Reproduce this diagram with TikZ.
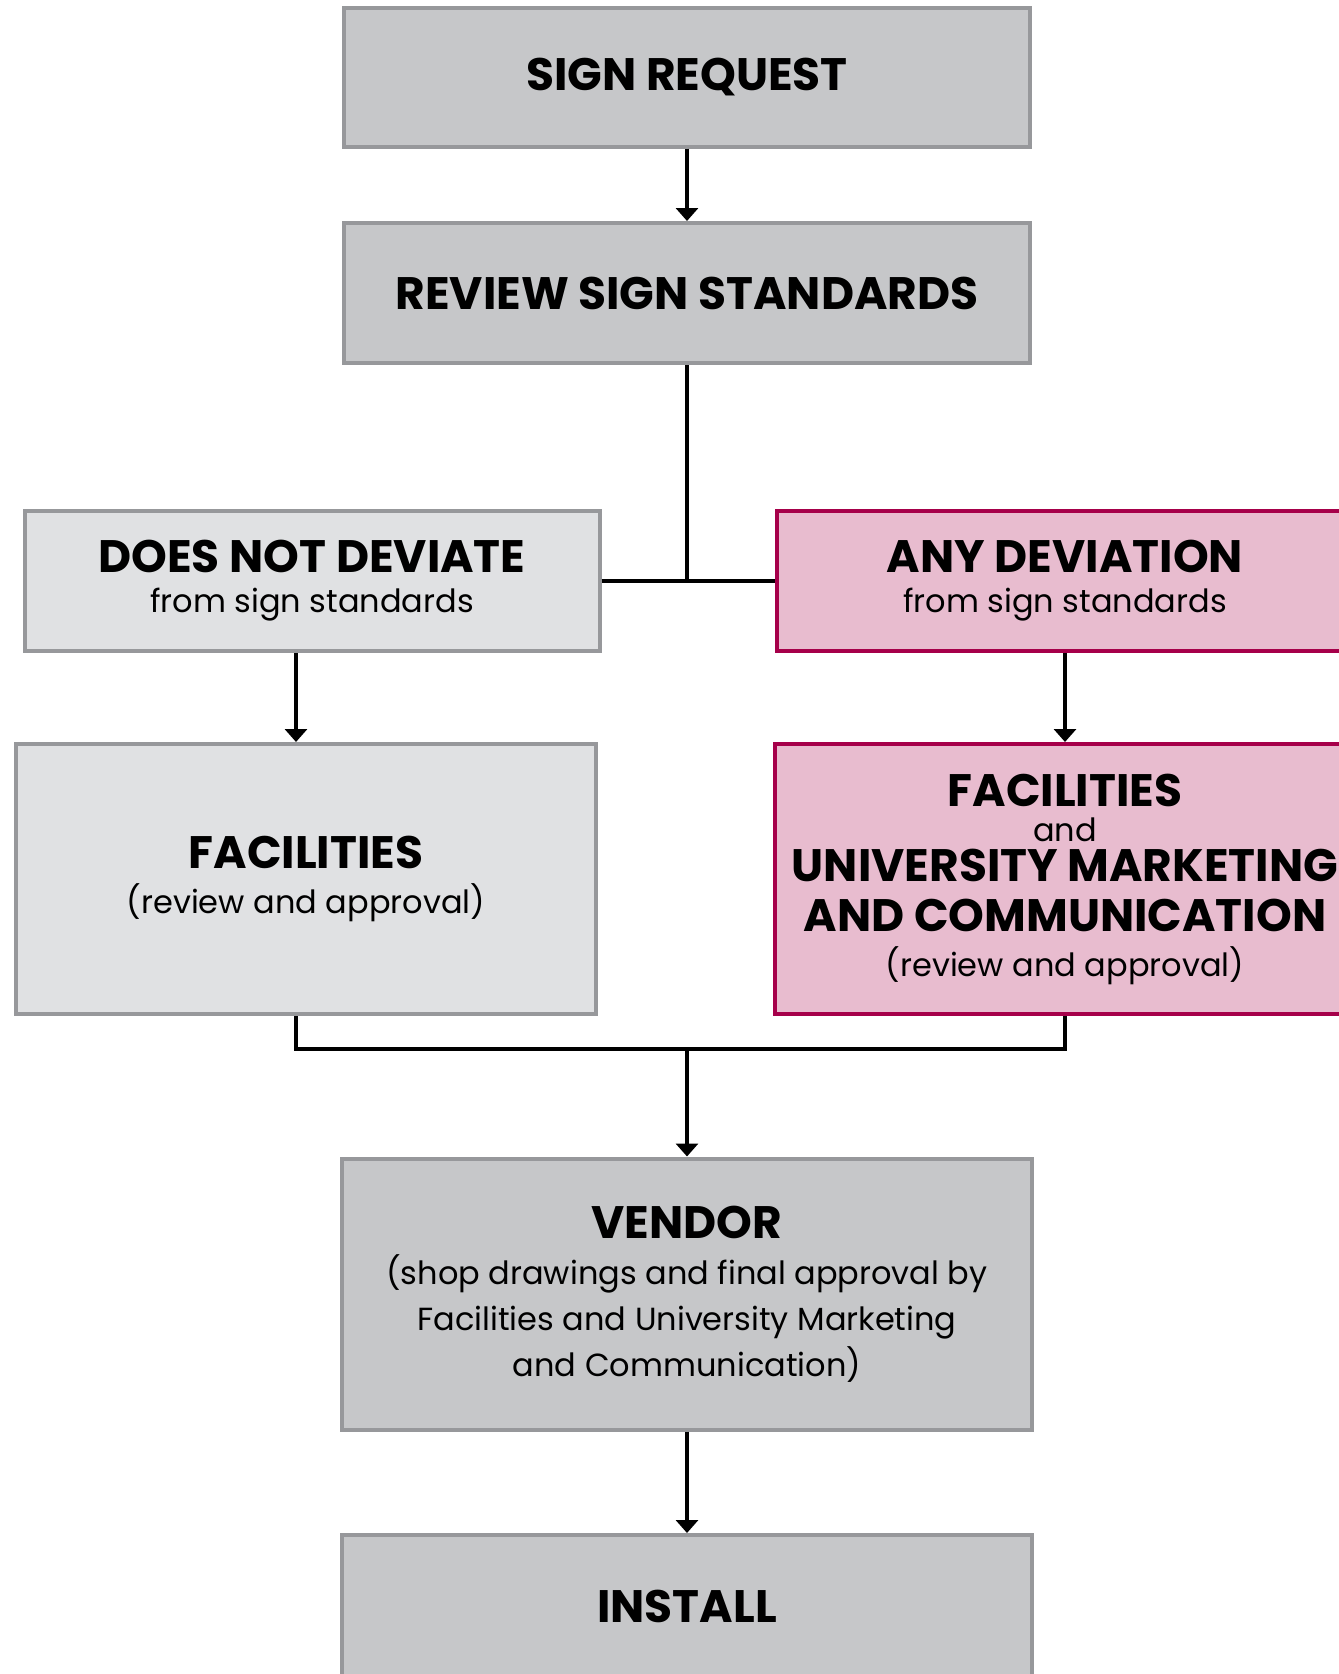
\documentclass[tikz,border=0pt]{standalone}
\usepackage{fontspec}
\setmainfont{Poppins}
\usetikzlibrary{arrows.meta,positioning}

\definecolor{boxgray}{RGB}{198,199,201}
\definecolor{boxlight}{RGB}{224,225,227}
\definecolor{boxedge}{RGB}{151,152,155}
\definecolor{pinkfill}{RGB}{232,188,207}
\definecolor{pinkedge}{RGB}{166,0,74}

% heading text, the rest is set by the node font
\newcommand{\headtxt}[1]{{\fontsize{45.5}{45}\selectfont\bfseries #1}}

\begin{document}
\begin{tikzpicture}[x=1pt,y=-1pt,
  stepbox/.style={draw=boxedge,fill=boxgray,line width=4pt,align=center,inner sep=0pt,
    font=\fontsize{32}{45}\selectfont},
  lightbox/.style={stepbox,fill=boxlight},
  pinkbox/.style={stepbox,draw=pinkedge,fill=pinkfill},
  conn/.style={line width=3.5pt},
  arr/.style={conn,-{Triangle[width=22pt,length=13pt]}}]
\useasboundingbox (0,0) rectangle (1339,1674);
\clip (0,0) rectangle (1339,1674);

% the boxes
\node[stepbox,minimum width=686pt,minimum height=139pt] (req) at (687,77) {\headtxt{SIGN REQUEST}};
\node[stepbox,minimum width=686pt,minimum height=140pt] (rev) at (687,293) {\headtxt{REVIEW SIGN STANDARDS}};
\node[lightbox,minimum width=575pt,minimum height=140pt] (nodev) at (312,581)
  {\headtxt{DOES NOT DEVIATE}\\[-5pt]from sign standards};
\node[pinkbox,minimum width=576pt,minimum height=140pt] (anydev) at (1065,581)
  {\headtxt{ANY DEVIATION}\\[-5pt]from sign standards};
\node[lightbox,minimum width=580pt,minimum height=270pt] (facl) at (306,879)
  {\headtxt{FACILITIES}\\(review and approval)};
\node[pinkbox,minimum width=580pt,minimum height=270pt] (facr) at (1065,879)
  {\headtxt{FACILITIES}\\[-10pt]and\\[-5pt]\headtxt{UNIVERSITY MARKETING}\\[5pt]
   \headtxt{AND COMMUNICATION}\\(review and approval)};
\node[stepbox,minimum width=690pt,minimum height=271pt] (vendor) at (687,1294)
  {\headtxt{VENDOR}\\[1pt](shop drawings and final approval by\\[1pt]
   Facilities and University Marketing\\[1pt]and Communication)};
\node[stepbox,minimum width=690pt,minimum height=142pt] (install) at (687,1606) {\headtxt{INSTALL}};

% the connectors
\draw[arr] (req) -- (rev);
\draw[conn] (rev.south) -- (rev.south |- nodev.east);
\draw[conn] (nodev.east) -- (anydev.west);
\draw[arr] ([xshift=-16pt]nodev.south) -- ([xshift=-16pt]nodev.south |- facl.north);
\draw[arr] (anydev) -- (facr);

% merge both reviews
\coordinate (join) at ([yshift=-33pt]facl.south -| vendor.north);
\draw[conn] ([xshift=-10pt]facl.south) |- (join) -| (facr.south);
\draw[arr] (join) -- (vendor);
\draw[arr] (vendor) -- (install);
\end{tikzpicture}
\end{document}
